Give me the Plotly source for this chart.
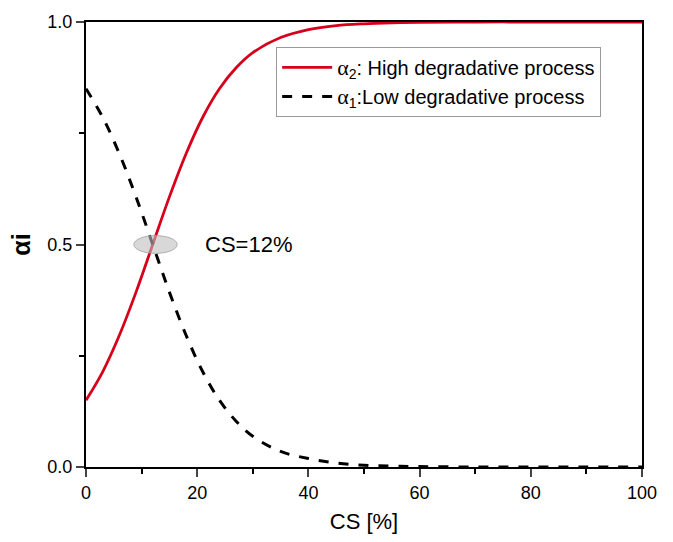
import plotly.graph_objects as go

cs = [0, 3, 6, 9, 12, 15, 18, 21, 24, 27, 30, 35, 40, 45, 50, 55, 60, 70, 80, 90, 100]
alpha2 = [0.150, 0.214, 0.296, 0.393, 0.500, 0.607, 0.704, 0.786, 0.850, 0.897, 0.931,
          0.965, 0.983, 0.992, 0.996, 0.998, 0.999, 1.0, 1.0, 1.0, 1.0]
alpha1 = [0.850, 0.786, 0.704, 0.607, 0.500, 0.393, 0.296, 0.214, 0.150, 0.103, 0.069,
          0.035, 0.019, 0.009, 0.004, 0.002, 0.001, 0.0, 0.0, 0.0, 0.0]

x_ticks = [0, 20, 40, 60, 80, 100]
y_ticks = [0.0, 0.5, 1.0]
y_tick_labels = ["0.0", "0.5", "1.0"]
annot_cs = 12
annot_alpha = 0.5
annot_text = "CS=12%"

greek = "<span style='font-family:Liberation Serif;font-size:22px'>α</span>"
name2 = greek + "<sub>2</sub>: High degradative process"
name1 = greek + "<sub>1</sub>:Low degradative process"

fig = go.Figure()
fig.add_trace(go.Scatter(x=cs, y=alpha2, mode="lines", name=name2,
                         line=dict(color="#d6001c", width=2.8, shape="spline")))
fig.add_trace(go.Scatter(x=cs, y=alpha1, mode="lines", name=name1,
                         line=dict(color="black", width=3, shape="spline", dash="10px,10px")))

fig.add_shape(type="circle", xref="x", yref="y",
              x0=annot_cs + 0.5 - 3.9, x1=annot_cs + 0.5 + 3.9,
              y0=annot_alpha - 0.02, y1=annot_alpha + 0.02,
              fillcolor="rgba(190,190,190,0.6)", line=dict(color="rgba(160,160,160,0.8)", width=1),
              layer="above")
fig.add_annotation(x=21, y=annot_alpha, xref="x", yref="y", text=annot_text,
                   showarrow=False, xanchor="left", yanchor="middle",
                   font=dict(family="Liberation Sans, Arial", size=22, color="black"))

fig.update_layout(
    width=673, height=542,
    margin=dict(l=86, r=31, t=22, b=73),
    paper_bgcolor="white", plot_bgcolor="white",
    font=dict(family="Liberation Sans, Arial", color="black", size=18),
    legend=dict(x=0.342, y=0.944, xanchor="left", yanchor="top",
                bordercolor="#999999", borderwidth=1, bgcolor="white",
                font=dict(size=20), itemwidth=50),
    showlegend=True,
)
fig.update_xaxes(range=[0, 100], tickvals=x_ticks, ticks="outside", ticklen=8, tickwidth=2,
                 showline=True, linewidth=2, linecolor="black", mirror=True,
                 showgrid=False, zeroline=False,
                 minor=dict(dtick=10, ticks="outside", ticklen=5, tickwidth=2, tickcolor="black"),
                 title=dict(text="CS [%]", font=dict(size=22), standoff=12),
                 tickfont=dict(size=18))
fig.update_yaxes(range=[0, 1], tickvals=y_ticks, ticktext=y_tick_labels, ticks="outside",
                 ticklen=8, tickwidth=2,
                 showline=True, linewidth=2, linecolor="black", mirror=True,
                 showgrid=False, zeroline=False,
                 minor=dict(tickvals=[0.25, 0.75], ticks="outside", ticklen=5, tickwidth=2, tickcolor="black"),
                 title=dict(text="<b>αi</b>", font=dict(size=25), standoff=10),
                 tickfont=dict(size=18))

fig.write_html("out.html")
